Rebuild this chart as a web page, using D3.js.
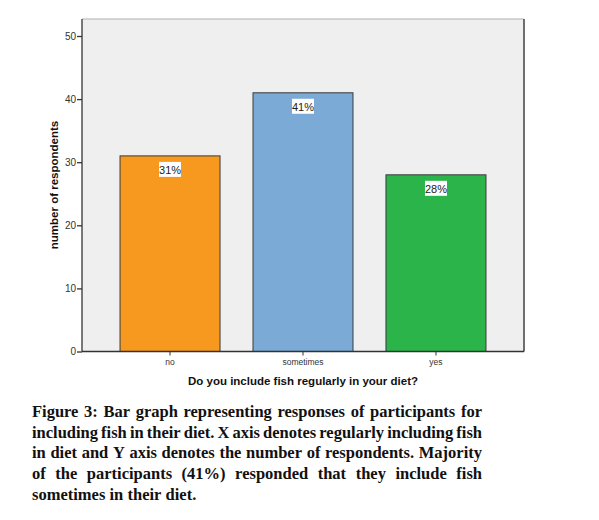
<!DOCTYPE html>
<html><head><meta charset="utf-8">
<script src="https://cdn.jsdelivr.net/npm/d3@7"></script>
<style>body{margin:0;background:#fff}svg{display:block}</style>
</head><body>
<script>
const categories = ["no", "sometimes", "yes"];
const counts = [31, 41, 28];
const percentLabels = ["31%", "41%", "28%"];
const barColors = ["#F7991F", "#7BAAD6", "#2BB44A"];
const yTicks = [0, 10, 20, 30, 40, 50];
const yTitle = "number of respondents";
const xTitle = "Do you include fish regularly in your diet?";
const captionLines = [
  "Figure 3: Bar graph representing responses of participants for",
  "including fish in their diet. X axis denotes regularly including fish",
  "in diet and Y axis denotes the number of respondents. Majority",
  "of the participants (41%) responded that they include fish",
  "sometimes in their diet."
];

const W = 599, H = 520;
const svg = d3.select("body").append("svg").attr("width", W).attr("height", H);
const L = 82, R = 524, T = 19, B = 351.5;

const x = d3.scaleBand().domain(categories).range([L, R]).paddingInner(0.248).paddingOuter(0.286);
const y = d3.scaleLinear().domain([0, 50]).range([B, 36]);

svg.append("rect").attr("x", L).attr("y", T).attr("width", R - L).attr("height", B - T)
  .attr("fill", "#efefef");
svg.append("line").attr("x1", L).attr("x2", R).attr("y1", T).attr("y2", T).attr("stroke", "#b0b0b0").attr("stroke-width", 1);
svg.append("line").attr("x1", R).attr("x2", R).attr("y1", T).attr("y2", B).attr("stroke", "#6e6e6e").attr("stroke-width", 2);

svg.selectAll("rect.bar").data(categories).join("rect").attr("class", "bar")
  .attr("x", d => x(d)).attr("width", x.bandwidth())
  .attr("y", (d, i) => y(counts[i])).attr("height", (d, i) => y(0) - y(counts[i]))
  .attr("fill", (d, i) => barColors[i]).attr("stroke", "#3a3a3a").attr("stroke-width", 1);

const lab = svg.selectAll("g.lab").data(categories).join("g").attr("class", "lab")
  .attr("transform", (d, i) => `translate(${x(d) + x.bandwidth() / 2},${y(counts[i]) + 14})`);
lab.append("rect").attr("x", -11).attr("y", -8).attr("width", 22).attr("height", 15).attr("fill", "#fff");
lab.append("text").attr("text-anchor", "middle").attr("dy", "0.35em")
  .style("font-family", "Arial, 'Liberation Sans', sans-serif").style("font-size", "11px").attr("fill", "#222")
  .text((d, i) => percentLabels[i]);

const yAxis = svg.append("g").attr("transform", `translate(${L},0)`)
  .call(d3.axisLeft(y).tickValues(yTicks).tickSize(5).tickPadding(1));
yAxis.select(".domain").attr("stroke", "#333").attr("d", `M0,${T}V${B}`).attr("stroke-width", 1.3);
yAxis.selectAll(".tick line").attr("stroke", "#333").attr("stroke-width", 1.3);
yAxis.selectAll("text").style("font-family", "Arial, 'Liberation Sans', sans-serif").style("font-size", "10px").attr("fill", "#333");

const xAxis = svg.append("g").attr("transform", `translate(0,${B})`)
  .call(d3.axisBottom(x).tickSize(4).tickPadding(3).tickSizeOuter(0));
xAxis.select(".domain").attr("stroke", "#333").attr("d", `M${L},0H${R}`).attr("stroke-width", 1.3);
xAxis.selectAll(".tick line").attr("stroke", "#333");
xAxis.selectAll("text").style("font-family", "Arial, 'Liberation Sans', sans-serif").style("font-size", "8.5px").attr("fill", "#333");

svg.append("text").attr("transform", `translate(58,185) rotate(-90)`)
  .attr("text-anchor", "middle").style("font-family", "Arial, 'Liberation Sans', sans-serif")
  .style("font-size", "11.5px").style("font-weight", "bold").attr("fill", "#111").text(yTitle);
svg.append("text").attr("x", 303).attr("y", 385).attr("text-anchor", "middle")
  .style("font-family", "Arial, 'Liberation Sans', sans-serif").style("font-size", "11.5px")
  .style("font-weight", "bold").attr("fill", "#111").text(xTitle);

const capX0 = 32, capX1 = 482, capY0 = 417, capDy = 20.7;
captionLines.forEach((line, li) => {
  const words = line.split(" ");
  const g = svg.append("g");
  const nodes = words.map(w => g.append("text").attr("y", capY0 + li * capDy)
    .style("font-family", "'Liberation Serif', 'Times New Roman', serif").style("font-size", "16.5px")
    .style("font-weight", "bold").attr("fill", "#111").text(w));
  const widths = nodes.map(n => n.node().getComputedTextLength());
  const total = d3.sum(widths);
  const last = li === captionLines.length - 1;
  const gap = last ? 4.2 : (capX1 - capX0 - total) / (words.length - 1);
  let cx = capX0;
  nodes.forEach((n, i) => { n.attr("x", cx); cx += widths[i] + gap; });
});
</script>
</body></html>
